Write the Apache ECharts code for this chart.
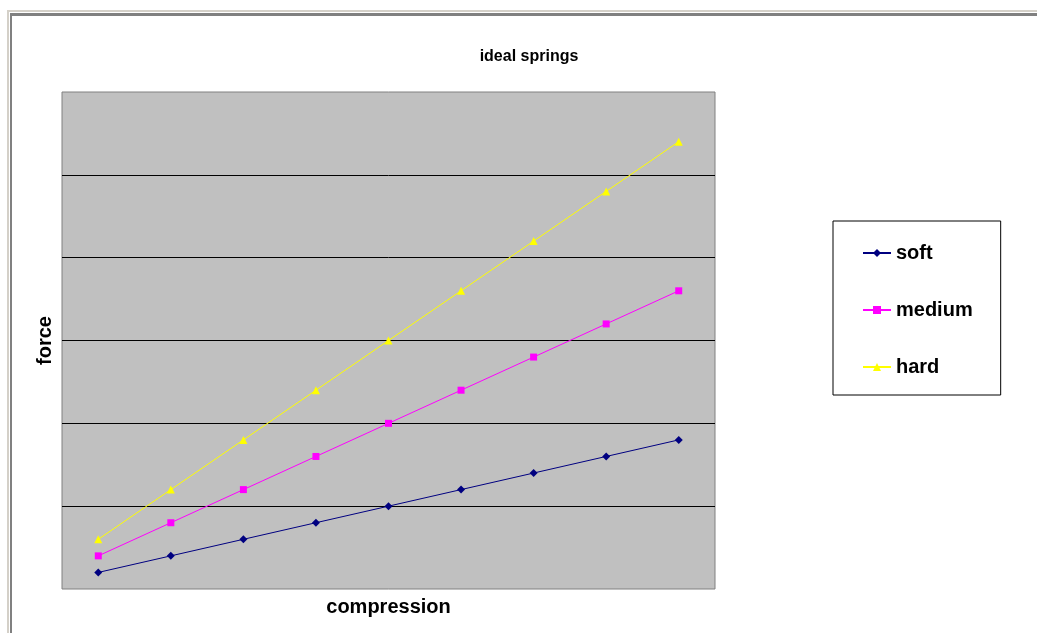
<!DOCTYPE html>
<html>
<head>
<meta charset="utf-8">
<script src="https://cdn.jsdelivr.net/npm/echarts@6/dist/echarts.min.js"></script>
<style>
html,body{margin:0;padding:0;background:#fff;width:1037px;height:633px;overflow:hidden;}
#frame1{position:absolute;left:7px;top:10px;width:1040px;height:640px;border-top:2px solid #d4d0c8;border-left:2px solid #d4d0c8;}
#frame2{position:absolute;left:10px;top:13px;width:1040px;height:640px;border-top:3px solid #808080;border-left:2px solid #808080;}
#chart{position:absolute;left:0;top:0;width:1037px;height:633px;}
</style>
</head>
<body>
<div id="frame1"></div>
<div id="frame2"></div>
<div id="chart"></div>
<script>
const categories = ['1','2','3','4','5','6','7','8','9'];
const soft   = [1, 2, 3, 4, 5, 6, 7, 8, 9];
const medium = [2, 4, 6, 8, 10, 12, 14, 16, 18];
const hard   = [3, 6, 9, 12, 15, 18, 21, 24, 27];
const yMin = 0, yMax = 30, yStep = 5;

const chart = echarts.init(document.getElementById('chart'), null, {renderer:'canvas'});
const font = 'Arial, "Liberation Sans", sans-serif';
chart.setOption({
  animation:false,
  backgroundColor:'transparent',
  title:{
    text:'ideal springs',
    left:524, top:44, textAlign:'center',
    textStyle:{fontFamily:font, fontSize:16, fontWeight:'bold', color:'#000'}
  },
  legend:{
    orient:'vertical',
    left:833, top:221,
    padding:[22,28,18,29],
    itemWidth:28, itemHeight:10, itemGap:37,
    borderColor:'#000', borderWidth:1,
    backgroundColor:'#fff',
    textStyle:{fontFamily:font, fontSize:20, fontWeight:'bold', color:'#000'},
    data:['soft','medium','hard']
  },
  grid:{
    left:62, top:92, width:653, height:497,
    show:true, backgroundColor:'#c0c0c0', borderColor:'#808080', borderWidth:1
  },
  xAxis:{
    type:'category', data:categories, boundaryGap:true,
    name:'compression', nameLocation:'middle', nameGap:8,
    nameTextStyle:{fontFamily:font, fontSize:20, fontWeight:'bold', color:'#000', verticalAlign:'top'},
    axisLine:{show:false}, axisTick:{show:false}, axisLabel:{show:false}, splitLine:{show:false}
  },
  yAxis:{
    type:'value', min:yMin, max:yMax, interval:yStep,
    name:'force', nameLocation:'middle', nameGap:7, nameRotate:90,
    nameTextStyle:{fontFamily:font, fontSize:20, fontWeight:'bold', color:'#000'},
    axisLine:{show:false}, axisTick:{show:false}, axisLabel:{show:false},
    splitLine:{show:true, showMinLine:false, showMaxLine:false, lineStyle:{color:'#000', width:1}}
  },
  series:[
    {name:'soft', type:'line', data:soft, symbol:'diamond', symbolSize:8,
     itemStyle:{color:'#000080'}, lineStyle:{color:'#000080', width:1}},
    {name:'medium', type:'line', data:medium, symbol:'rect', symbolSize:7,
     itemStyle:{color:'#ff00ff'}, lineStyle:{color:'#ff00ff', width:1}},
    {name:'hard', type:'line', data:hard, symbol:'triangle', symbolSize:8,
     itemStyle:{color:'#ffff00'}, lineStyle:{color:'#ffff00', width:1}}
  ]
});
</script>
</body>
</html>
